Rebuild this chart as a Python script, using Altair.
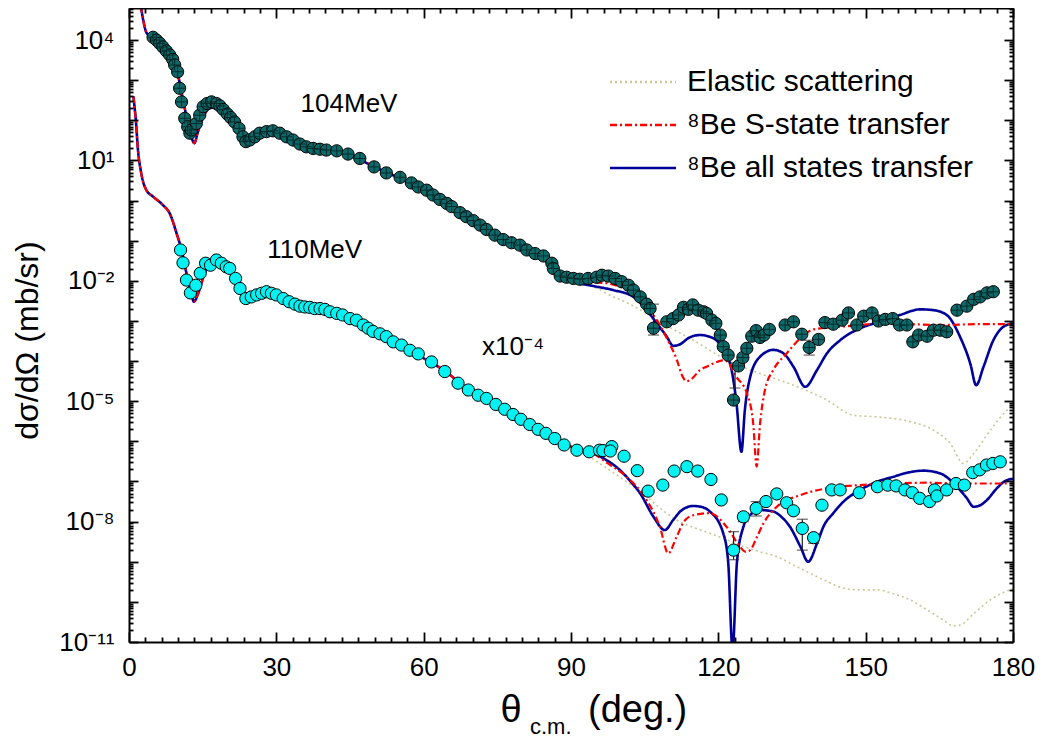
import altair as alt
import pandas as pd

FONT = "Liberation Sans"

# ---------------- axes ----------------
x_major = [0, 30, 60, 90, 120, 150, 180]
x_ticks = [round(k * 30 / 9, 6) for k in range(55)]
y_label_exps = [-11, -8, -5, -2, 1, 4]
y_top_exp = 4.8
y_ticks = [float(f"{m}e{d}") for d in range(-11, 5) for m in range(1, 10) if float(f"{m}e{d}") <= 10 ** y_top_exp]

# ---------------- legend series ----------------
series_names = ["Elastic scattering", "⁸Be S-state transfer", "⁸Be all states transfer"]
series_colors = ["#c8c896", "#ff0000", "#00009a"]
series_dash = [[2, 3], [7, 3, 2, 3], [1, 0]]
series_widths = [1.6, 2.2, 2.6]

# ---------------- data: 104 MeV (points) ----------------
p104_theta = [4.9, 5.6, 6.25, 6.9, 7.6, 8.3, 8.9, 9.3, 9.9, 10.3, 10.7, 11.35, 11.95, 12.4, 12.7, 13.7,
              14.4, 15.1, 15.9, 16.8, 17.8, 18.5, 19.2, 20.0, 20.7, 21.5, 22.4, 23.2, 23.8, 24.6, 25.6,
              26.6, 28.0, 29.3, 30.7, 32.1, 33.4, 34.8, 36.1, 37.5, 38.9, 40.2, 42.3, 44.6, 47.0, 49.9,
              52.4, 55.2, 57.5, 58.9, 60.6, 61.9, 63.3, 64.7, 65.7, 67.4, 68.7, 70.1, 71.5, 72.8, 74.5,
              76.2, 77.9, 79.6, 81.0, 82.7, 84.4, 86.1, 86.4, 87.8, 89.1, 90.5, 91.8, 93.5, 95.2, 96.3,
              97.6, 99.0, 100.3, 101.7, 102.7, 104.1, 105.4, 106.1, 106.8, 109.5, 110.8, 111.9, 112.9,
              113.9, 114.8, 115.9, 117.0, 117.6, 118.7, 119.5, 120.4, 121.0, 122.0, 123.1, 124.1, 125.0,
              125.8, 126.8, 127.7, 128.5, 129.3, 130.4, 133.6, 135.3, 137.0, 138.5, 140.4, 141.7, 143.4,
              145.2, 146.5, 148.2, 149.6, 151.3, 152.6, 154.0, 155.5, 156.9, 158.4, 159.6, 160.8, 162.5,
              163.8, 165.2, 166.5, 168.6, 170.6, 172.0, 173.3, 174.7, 176.0]
p104_lg = [4.07, 4.00, 3.92, 3.83, 3.73, 3.63, 3.52, 3.38, 3.21, 2.80, 2.46, 2.05, 1.84, 1.68, 1.76, 1.92,
           2.13, 2.34, 2.42, 2.46, 2.42, 2.36, 2.27, 2.16, 2.07, 1.96, 1.80, 1.59, 1.47, 1.51, 1.59,
           1.68, 1.72, 1.74, 1.68, 1.59, 1.51, 1.41, 1.34, 1.30, 1.28, 1.26, 1.24, 1.16, 1.05, 0.84,
           0.69, 0.58, 0.44, 0.34, 0.26, 0.14, 0.03, -0.07, -0.15, -0.30, -0.40, -0.50, -0.61, -0.72, -0.86,
           -0.97, -1.05, -1.11, -1.23, -1.32, -1.38, -1.56, -1.69, -1.88, -1.91, -1.94, -1.96, -1.94, -1.91, -1.86,
           -1.88, -1.94, -2.02, -2.11, -2.23, -2.40, -2.58, -2.69, -3.18, -3.02, -2.94, -2.85, -2.66,
           -2.71, -2.60, -2.73, -2.77, -2.81, -2.98, -3.06, -3.35, -3.64, -3.85, -4.97, -4.12, -3.91,
           -3.68, -3.38, -3.24, -3.41, -3.35, -3.21, -3.10, -3.02, -3.33, -3.66, -3.46, -3.04, -3.08,
           -2.98, -2.80, -3.10, -2.88, -2.80, -3.00, -2.96, -2.94, -3.10, -3.10, -3.52, -3.35, -3.38,
           -3.23, -3.23, -3.27, -2.73, -2.63, -2.46, -2.40, -2.30, -2.27]

# ---------------- data: 110 MeV (points, x10^-4) ----------------
p110_theta = [10.5, 11.0, 11.7, 12.5, 13.6, 14.5, 15.6, 16.6, 17.8, 18.8, 19.8, 20.5, 21.7, 22.6, 23.8,
              24.9, 26.0, 27.0, 28.0, 29.0, 30.0, 31.4, 32.6, 33.8, 34.8, 35.8, 36.8, 37.8, 38.9, 39.9,
              40.9, 42.3, 43.5, 45.0, 46.3, 47.7, 48.7, 49.7, 51.1, 52.4, 53.8, 55.5, 57.2, 58.9, 61.6,
              64.3, 67.0, 69.1, 71.1, 72.8, 74.7, 76.5, 78.2, 79.8, 81.6, 83.3, 84.9, 86.7, 88.6, 91.2,
              93.7, 95.8, 96.5, 98.3, 98.0, 100.8, 103.5, 105.7, 108.7, 111.0, 113.6, 115.8, 118.5, 120.6,
              123.1, 125.1, 127.7, 129.7, 131.9, 133.9, 135.3, 137.1, 139.4, 141.1, 143.1, 144.8, 148.7,
              152.4, 154.5, 156.2, 158.0, 159.5, 161.0, 163.0, 164.0, 164.5, 166.5, 168.4, 170.1, 171.8,
              173.2, 174.6, 175.9, 177.4]
p110_lg = [-1.23, -1.55, -1.98, -2.30, -2.11, -1.81, -1.56, -1.61, -1.48, -1.56, -1.65, -1.69, -1.94, -2.19, -2.44,
           -2.40, -2.35, -2.31, -2.27, -2.31, -2.35, -2.44, -2.52, -2.58, -2.63, -2.65, -2.66, -2.69, -2.69, -2.71,
           -2.77, -2.81, -2.85, -2.94, -2.98, -3.10, -3.18, -3.26, -3.32, -3.39, -3.52, -3.60, -3.73, -3.82, -4.02,
           -4.26, -4.55, -4.72, -4.85, -4.93, -5.08, -5.20, -5.33, -5.45, -5.58, -5.70, -5.80, -5.93, -6.09, -6.22,
           -6.26, -6.22, -6.23, -6.13, -6.24, -6.37, -6.73, -7.24, -7.09, -6.74, -6.63, -6.74, -6.95, -7.46,
           -8.71, -7.88, -7.67, -7.50, -7.31, -7.53, -7.73, -8.17, -8.40, -7.59, -7.21, -7.21, -7.28,
           -7.13, -7.09, -7.11, -7.21, -7.28, -7.42, -7.50, -7.21, -7.36, -7.21, -7.05, -7.09, -6.78,
           -6.71, -6.59, -6.55, -6.51]

# ---------------- error bars ----------------
err_set = ["104", "104", "104", "110", "110", "110", "110", "110"]
err_theta = [106.8, 123.4, 138.5, 123.1, 125.1, 127.7, 137.1, 139.4]
err_lo = [-3.35, -4.67, -3.85, -8.95, -8.00, -7.86, -8.71, -8.54]
err_hi = [-2.58, -4.05, -3.48, -8.25, -7.78, -7.50, -7.94, -8.30]

# ---------------- calculated curves: 104 MeV ----------------
c104_theta = [1.5, 2.2, 2.9, 3.5, 4.5, 5.5, 7.0, 8.5, 9.5, 10.3, 11.0, 12.0, 12.8, 13.3, 14.0, 15.0, 16.4,
              17.5, 19.0, 20.5, 22.0, 23.2, 24.0, 25.5, 27.5, 29.5, 31.5, 34.0, 37.0, 40.0, 43.0, 46.0,
              50.0, 55.0, 60.0, 65.0, 70.0, 75.0, 80.0, 84.0]
c104_lg = [5.6, 5.0, 4.5, 4.2, 4.08, 3.98, 3.78, 3.56, 3.33, 2.95, 2.5, 1.95, 1.55, 1.43, 1.70, 2.05, 2.30,
           2.32, 2.20, 2.00, 1.78, 1.58, 1.52, 1.57, 1.68, 1.71, 1.63, 1.48, 1.33, 1.25, 1.19, 1.07,
           0.84, 0.56, 0.24, -0.12, -0.52, -0.88, -1.17, -1.42]
all104_theta = [86, 88, 90, 92, 95, 98.6, 102.7, 105.4, 107.5, 109.5, 110.8, 112.2, 114.0, 116.3, 119.0,
                121.0, 122.7, 123.7, 124.7, 125.4, 126.5, 128.5, 131.2, 133.3, 135.3, 137.7, 140.1, 142.1,
                144.8, 148.9, 152.9, 157.0, 161.1, 163.8, 166.5, 169.2, 171.3, 172.5, 174.0, 176.0, 178.1, 180]
all104_lg = [-1.62, -1.88, -2.02, -2.07, -2.14, -2.23, -2.40, -2.73, -3.06, -3.39, -3.62, -3.58, -3.42, -3.35, -3.43,
             -3.72, -4.22, -5.05, -6.26, -5.22, -4.39, -3.89, -3.72, -3.81, -4.14, -4.64, -4.22, -3.81,
             -3.48, -3.18, -3.02, -2.85, -2.71, -2.73, -2.85, -3.39, -4.06, -4.60, -4.14, -3.48, -3.14, -3.06]
s104_theta = [86, 88, 90, 94.5, 97.3, 100, 102.7, 105.4, 108.1, 110.0, 111.5, 112.6, 113.5, 114.5, 116.3,
              117.6, 119.0, 121.0, 122.0, 123.4, 125.8, 127.1, 127.8, 128.5, 129.5, 131.2, 133.9, 136.7,
              139.4, 143.4, 148.9, 152.9, 159.0, 165.8, 172.7, 180]
s104_lg = [-1.60, -1.85, -1.98, -2.04, -2.06, -2.15, -2.31, -2.65, -3.10, -3.55, -3.95, -4.35, -4.50, -4.45, -4.22,
           -4.14, -4.06, -3.98, -4.03, -4.35, -4.80, -5.55, -6.63, -5.55, -4.72, -4.22, -3.81, -3.43,
           -3.21, -3.16, -3.10, -3.06, -3.08, -3.10, -3.08, -3.08]
el104_theta = [86, 88, 91, 95.2, 98.0, 102.0, 106.8, 110.0, 114.9, 121.7, 128.5, 135.3, 142.1, 147.5, 152.3,
               159.1, 163.8, 167.2, 169.9, 172.0, 175.4, 178.8, 180]
el104_lg = [-1.60, -1.78, -1.98, -2.18, -2.36, -2.58, -2.92, -3.15, -3.48, -3.97, -4.31, -4.60, -4.97, -5.35, -5.39,
            -5.51, -5.72, -6.05, -6.55, -6.30, -5.72, -5.22, -5.10]

# ---------------- calculated curves: 110 MeV (x10^-4) ----------------
c110_theta = [0.9, 1.2, 1.4, 1.8, 2.5, 3.5, 4.9, 6.9, 8.3, 9.7, 10.7, 11.7, 12.7, 13.2, 14.1, 15.4, 17.1,
              18.5, 20.5, 22.6, 24.0, 25.5, 28.0, 30.0, 33.0, 36.0, 40.0, 44.0, 48.0, 52.0, 56.0, 60.0,
              64.0, 68.0, 72.0, 76.0, 80.0, 84.0]
c110_lg = [2.6, 2.25, 2.0, 1.3, 0.68, 0.27, 0.10, -0.11, -0.32, -0.82, -1.23, -1.81, -2.31, -2.52, -2.31, -1.81, -1.52,
           -1.56, -1.73, -2.15, -2.40, -2.42, -2.32, -2.36, -2.55, -2.66, -2.73, -2.88, -3.14, -3.40, -3.66, -3.93,
           -4.22, -4.60, -4.92, -5.20, -5.45, -5.75]
all110_theta = [88, 91, 94.5, 97, 100, 102, 104.1, 106.8, 109.1, 110.8, 112.5, 114.9, 117, 118.3, 121.0, 122.0,
                122.9, 123.8, 125.1, 126.5, 128.5, 131.2, 133.0, 134.6, 136.7, 138.3, 140.1, 141.5, 143.4,
                145.5, 148.9, 152.0, 155.7, 158.5, 161.8, 165.2, 168.6, 170.5, 172.0, 173.2, 174.7, 176.5,
                178.1, 180]
all110_lg = [-6.03, -6.18, -6.30, -6.45, -6.72, -6.98, -7.30, -7.88, -8.21, -7.96, -7.72, -7.61, -7.65, -7.75, -8.29,
             -9.0, -11.2, -9.0, -8.13, -7.83, -7.71, -7.75, -7.90, -8.13, -8.62, -9.00, -8.54, -8.10, -7.79,
             -7.50, -7.21, -7.02, -6.88, -6.78, -6.73, -6.80, -7.13, -7.40, -7.63, -7.60, -7.46, -7.20,
             -7.01, -6.93]
s110_theta = [88, 91, 94.5, 97.5, 101.3, 105.4, 108.1, 109.8, 111.5, 113.0, 114.9, 118.3, 121.7, 124.4, 125.5,
              126.5, 127.8, 129.2, 131.9, 136.7, 142.1, 148.9, 155.7, 162.5, 169.2, 180]
s110_lg = [-6.03, -6.18, -6.30, -6.55, -6.88, -7.46, -8.13, -8.79, -8.38, -8.00, -7.84, -7.79, -8.13, -8.62, -8.75,
           -8.71, -8.40, -8.04, -7.63, -7.34, -7.17, -7.09, -7.05, -7.03, -7.05, -7.05]
el110_theta = [88, 91.2, 94, 97.9, 101, 104.7, 108, 111.5, 115, 118.3, 121.7, 125.1, 128.5, 131.9, 135.3, 138.7,
               142, 145.5, 149, 152.3, 155.7, 159.1, 162.5, 165.8, 167.8, 169.2, 172.0, 175.4, 179.4, 180]
el110_lg = [-6.0, -6.17, -6.40, -6.72, -6.98, -7.30, -7.65, -7.96, -8.15, -8.29, -8.45, -8.62, -8.75, -8.87, -9.08,
            -9.29, -9.48, -9.66, -9.70, -9.70, -9.80, -9.95, -10.2, -10.45, -10.60, -10.58, -10.29, -9.95,
            -9.70, -9.68]

# ---------------- annotations ----------------
ann_text = ["104MeV", "110MeV", "x10⁻⁴"]
ann_theta = [44.8, 37.8, 78.2]
ann_lg = [2.40, -1.23, -3.65]
xtitle_parts = ["θ", "c.m.", "(deg.)"]

# ---------------- build tables ----------------
rows = []
def add_curve(set_name, series, th, lg):
    for t, l in zip(th, lg):
        rows.append({"theta": t, "sigma": 10 ** l, "series": series, "set": set_name})

add_curve("104", series_names[0], c104_theta + el104_theta, c104_lg + el104_lg)
add_curve("104", series_names[1], c104_theta + s104_theta, c104_lg + s104_lg)
add_curve("104", series_names[2], c104_theta + all104_theta, c104_lg + all104_lg)
add_curve("110", series_names[0], c110_theta + el110_theta, c110_lg + el110_lg)
add_curve("110", series_names[1], c110_theta + s110_theta, c110_lg + s110_lg)
add_curve("110", series_names[2], c110_theta + all110_theta, c110_lg + all110_lg)
curves = pd.DataFrame(rows)

pts104 = pd.DataFrame({"theta": p104_theta, "sigma": [10 ** v for v in p104_lg]})
pts110 = pd.DataFrame({"theta": p110_theta, "sigma": [10 ** v for v in p110_lg]})
errs = pd.DataFrame({"set": err_set, "theta": err_theta,
                     "lo": [10 ** v for v in err_lo], "hi": [10 ** v for v in err_hi]})
ann = pd.DataFrame({"label": ann_text, "theta": ann_theta, "sigma": [10 ** v for v in ann_lg]})

# ---------------- scales / axes ----------------
W, H = 884, 634
xs = alt.Scale(domain=[0, 180], nice=False, zero=False)
ys = alt.Scale(type="log", domain=[1e-11, 10 ** y_top_exp], nice=False)

sup = str.maketrans("-0123456789", "⁻⁰¹²³⁴⁵⁶⁷⁸⁹")
label_expr = "".join(
    f"abs(log(datum.value)/LN10 - ({e})) < 0.01 ? '10{str(e).translate(sup)}' : " for e in y_label_exps
) + "''"
y_label_vals = [float(f"1e{e}") for e in y_label_exps]

y_tick_size = {"condition": {"test": "abs(log(datum.value)/LN10 - round(log(datum.value)/LN10)) < 0.001",
                             "value": 9}, "value": 4}
x_tick_size = {"condition": {"test": "abs(datum.value/30 - round(datum.value/30)) < 0.001", "value": 10},
               "value": 5}

yA = alt.Axis(orient="left", values=y_label_vals, labelExpr=label_expr, ticks=False, tickSize=0,
              domain=True, domainColor="black", domainWidth=2, grid=False,
              labelFont=FONT, labelFontSize=26, labelColor="black", labelPadding=15,
              title="dσ/dΩ (mb/sr)", titleFont=FONT, titleFontSize=32, titleFontWeight="normal",
              titleColor="black", titleX=-102, titleY=332, titleAngle=270, titleAlign="center",
              titleBaseline="middle", zindex=3)
yB = alt.Axis(orient="right", offset=-W, values=y_ticks, labels=False, domain=False, grid=False,
              ticks=True, tickColor="black", tickWidth=1.8, tickSize=y_tick_size, title=None, zindex=3)
yC = alt.Axis(orient="left", offset=-W, values=y_ticks, labels=False, domain=True, domainColor="black",
              domainWidth=2, grid=False, ticks=True, tickColor="black", tickWidth=1.8,
              tickSize=y_tick_size, title=None, zindex=3)
xA = alt.Axis(orient="bottom", values=x_major, format="d", ticks=False, tickSize=0, domain=True,
              domainColor="black", domainWidth=2, grid=False, labelFont=FONT, labelFontSize=26,
              labelColor="black", labelPadding=12, labelFlush=False, title=None, zindex=3)
xB = alt.Axis(orient="top", offset=-H, values=x_ticks, labels=False, domain=False, grid=False,
              ticks=True, tickColor="black", tickWidth=1.8, tickSize=x_tick_size, title=None, zindex=3)
xC = alt.Axis(orient="bottom", offset=-H, values=x_ticks, labels=False, domain=True, domainColor="black",
              domainWidth=2, grid=False, ticks=True, tickColor="black", tickWidth=1.8,
              tickSize=x_tick_size, title=None, zindex=3)

color_enc = alt.Color("series:N", scale=alt.Scale(domain=series_names, range=series_colors), legend=None)
dash_enc = alt.StrokeDash("series:N", scale=alt.Scale(domain=series_names, range=series_dash), legend=None)


def line_layer(idx, xaxis, yaxis):
    name = series_names[idx]
    return alt.Chart(curves[curves.series == name]).mark_line(
        clip=True, strokeWidth=series_widths[idx], interpolate="monotone"
    ).encode(
        x=alt.X("theta:Q", scale=xs, axis=xaxis),
        y=alt.Y("sigma:Q", scale=ys, axis=yaxis),
        color=color_enc, strokeDash=dash_enc, detail="set:N",
    )


l_el = line_layer(0, xA, yA)
l_all = line_layer(2, xB, yB)
l_s = line_layer(1, xC, yC)

X0 = alt.X("theta:Q", scale=xs, axis=None)
Y0 = alt.Y("sigma:Q", scale=ys, axis=None)

err_rule = alt.Chart(errs).mark_rule(color="#222222", strokeWidth=1.2).encode(
    x=X0, y=alt.Y("lo:Q", scale=ys, axis=None), y2="hi:Q")
err_cap_lo = alt.Chart(errs).mark_tick(orient="horizontal", size=11, thickness=1.2, color="#222222").encode(
    x=X0, y=alt.Y("lo:Q", scale=ys, axis=None))
err_cap_hi = alt.Chart(errs).mark_tick(orient="horizontal", size=11, thickness=1.2, color="#222222").encode(
    x=X0, y=alt.Y("hi:Q", scale=ys, axis=None))

dots104 = alt.Chart(pts104).mark_circle(size=150, color="#0e6a6a", opacity=1, stroke="black",
                                         strokeWidth=1).encode(x=X0, y=Y0)
cross104 = alt.Chart(pts104).mark_point(shape="M-1,0L1,0M0,-1L0,1", size=120, filled=False,
                                         color="#042c2c", strokeWidth=1, opacity=1).encode(x=X0, y=Y0)
dots110 = alt.Chart(pts110).mark_circle(size=150, color="#00f2f2", opacity=1, stroke="black",
                                         strokeWidth=1).encode(x=X0, y=Y0)

ann_layer = alt.Chart(ann).mark_text(font=FONT, fontSize=26, color="black", align="center",
                                     baseline="middle").encode(x=X0, y=Y0, text="label:N")

# ---------------- hand-drawn legend (top right, no frame) ----------------
LEG_X0, LEG_X1, LEG_TX, LEG_Y0, LEG_DY = 481, 547, 558, 74, 43
legend_layers = []
for i, name in enumerate(series_names):
    legend_layers.append(
        alt.Chart(pd.DataFrame({"label": [name]})).mark_rule(
            color=series_colors[i], strokeDash=series_dash[i], strokeWidth=2.5
        ).encode(x=alt.value(LEG_X0), x2=alt.value(LEG_X1), y=alt.value(LEG_Y0 + LEG_DY * i))
    )
    legend_layers.append(
        alt.Chart(pd.DataFrame({"label": [name]})).mark_text(
            font=FONT, fontSize=30, color="black", align="left", baseline="middle"
        ).encode(x=alt.value(LEG_TX), y=alt.value(LEG_Y0 + LEG_DY * i), text="label:N")
    )

# ---------------- x title with subscript ----------------
xt = pd.DataFrame({"t": xtitle_parts})
xt_theta = alt.Chart(xt[xt.t == xtitle_parts[0]]).mark_text(
    font=FONT, fontSize=38, color="black", align="center", baseline="alphabetic"
).encode(x=alt.value(382), y=alt.value(714), text="t:N")
xt_sub = alt.Chart(xt[xt.t == xtitle_parts[1]]).mark_text(
    font=FONT, fontSize=22, color="black", align="left", baseline="alphabetic"
).encode(x=alt.value(401), y=alt.value(726), text="t:N")
xt_unit = alt.Chart(xt[xt.t == xtitle_parts[2]]).mark_text(
    font=FONT, fontSize=38, color="black", align="left", baseline="alphabetic"
).encode(x=alt.value(459), y=alt.value(714), text="t:N")

chart = alt.layer(
    l_el, l_all, l_s, err_rule, err_cap_lo, err_cap_hi, dots104, cross104, dots110,
    ann_layer, *legend_layers, xt_theta, xt_sub, xt_unit
).resolve_scale(
    x="shared", y="shared", color="shared", strokeDash="shared"
).resolve_axis(
    x="independent", y="independent"
).properties(
    width=W, height=H,
    padding={"left": 121, "top": 0, "right": 22, "bottom": 98},
    autosize=alt.AutoSizeParams(type="none"),
).configure_view(stroke=None)

chart.save("out.html", embed_options={"renderer": "svg", "actions": False})
